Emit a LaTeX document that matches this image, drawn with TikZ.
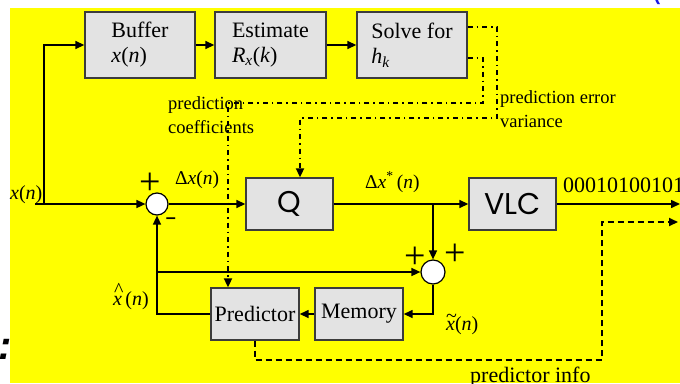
\documentclass[tikz,border=0pt]{standalone}
\usepackage{fontspec}
\setmainfont{Liberation Serif}
\newfontfamily\gothic{Poppins}
\newfontfamily\arialf{Liberation Sans}
\usetikzlibrary{arrows.meta}
\definecolor{boxgray}{HTML}{E3E3E3}
\definecolor{bord}{HTML}{3C3C3C}
\definecolor{ylw}{HTML}{FFFF00}
\definecolor{blu}{HTML}{1A1AE6}
\tikzset{
  blk/.style={draw=bord, fill=boxgray, line width=1.4pt, align=left,
    font=\fontsize{22}{25}\selectfont, inner sep=0pt},
  gblk/.style={blk, align=center, font=\gothic\fontsize{30}{30}\selectfont},
  sumc/.style={circle, draw=black, fill=white, line width=1.2pt, inner sep=0pt},
  tip/.style={-{Triangle[length=9pt,width=8pt]}},
  arr/.style={tip, line width=1.5pt},
  dsh/.style={tip, line width=2pt, dash pattern=on 6pt off 4pt},
  dd/.style={tip, line width=2pt, dash pattern=on 5pt off 4pt on 1.5pt off 4pt},
  lbl/.style={font=\fontsize{18.5}{24}\selectfont, inner sep=0pt, anchor=base west},
  mlbl/.style={font=\fontsize{20}{24}\selectfont, inner sep=0pt, anchor=base west},
  pls/.style={font=\fontsize{38}{38}\selectfont, inner sep=0pt},
}
\begin{document}
\begin{tikzpicture}[x=1pt,y=-1pt]
\useasboundingbox (0,0) rectangle (680,383);
\fill[white] (0,0) rectangle (680,383);
\node[font=\arialf\bfseries\itshape\fontsize{40}{40}\selectfont, inner sep=0pt, anchor=base east] (frag) at (12,359) {l:};
\fill[ylw] (10,8) rectangle (680,383);
\node[font=\arialf\bfseries\fontsize{20}{20}\selectfont, text=blu, inner sep=0pt, anchor=south] (brk) at (657,5) {(};

% blocks
\node[blk, minimum width=110pt, minimum height=66pt] (buf) at (140,45) {Buffer\\\textit{x}(\textit{n})};
\node[blk, minimum width=111pt, minimum height=66pt] (est) at (270.5,45) {Estimate\\\textit{R}\textsubscript{\textit{x}}(\textit{k})};
\node[blk, minimum width=110pt, minimum height=66pt] (solve) at (412,45) {Solve for\\\textit{h}\textsubscript{\textit{k}}};
\node[gblk, minimum width=87pt, minimum height=52pt] (q) at (289.5,204) {Q};
\node[gblk, minimum width=87pt, minimum height=52pt] (vlc) at (512.5,204) {VLC};
\node[blk, minimum width=88pt, minimum height=52pt, align=center] (pred) at (255,314) {Predictor};
\node[blk, minimum width=88pt, minimum height=52pt, align=center] (mem) at (359,314) {Memory};
\node[sumc, minimum size=22pt] (s1) at (157,204) {};
\node[sumc, minimum size=24pt] (s2) at (433,272) {};

% solid connectors
\coordinate (xin) at (35,204);
\coordinate (tap) at (44,204);
\coordinate (out) at (680,204);
\coordinate (br) at (433,204);
\coordinate (fb) at (157,272);
\draw[arr] (xin) -- (s1);
\draw[arr] (tap) |- (buf.west);
\draw[arr] (buf) -- (est);
\draw[arr] (est) -- (solve);
\draw[arr] (s1) -- (q);
\draw[arr] (q) -- (vlc);
\draw[arr] (vlc) -- (out);
\draw[arr] (br) -- (s2);
\draw[arr] (pred.west) -| (s1.south);
\draw[arr] (fb) -- (s2);
\draw[arr] (s2.south) |- (mem.east);
\draw[arr] (mem) -- (pred);

% dashed / dash-dotted
\coordinate (pinfo) at (678,222);
\draw[dsh] (pred.south) |- (602,360) -- (602,222) -- (pinfo);
\draw[dd] ([yshift=-13pt]solve.east) -| (483,103) -- (228,103) -- (228,103 |- pred.north);
\draw[dd] ([yshift=18pt]solve.east) -| (497,118) -- (300,118) -- (300,118 |- q.north);

% labels
\node[lbl] (l1) at (168,109) {prediction};
\node[lbl] (l2) at (168,133) {coefficients};
\node[lbl] (l3) at (500,103) {prediction error};
\node[lbl] (l4) at (500,127) {variance};
\node[lbl, font=\fontsize{22}{24}\selectfont] (l5) at (470,382) {predictor info};
\node[lbl, font=\fontsize{22}{24}\selectfont] (bits) at (563,192) {0001010010101};
\node[mlbl] (xn) at (10,199) {\textit{x}(\textit{n})};
\node[mlbl, font=\fontsize{19.5}{24}\selectfont] (dx) at (175,184) {Δ\textit{x}(\textit{n})};
\node[mlbl, font=\fontsize{19.5}{24}\selectfont] (dxs) at (365,188) {Δ\textit{x}\textsuperscript{*}\,(\textit{n})};
\node[mlbl] (xh) at (113,305) {\makebox[0pt][l]{\kern1pt\raisebox{0.42em}{\textasciicircum}}\textit{x}\,(\textit{n})};
\node[mlbl] (xt) at (446,330) {\makebox[0pt][l]{\raisebox{0.38em}{\textasciitilde}}\textit{x}(\textit{n})};
\node[pls] (p1) at (150,184) {+};
\node[pls] (p2) at (415,258) {+};
\node[pls] (p3) at (455,255) {+};
\node[font=\arialf\bfseries\fontsize{18}{18}\selectfont, inner sep=0pt] (m1) at (171,221) {–};
\end{tikzpicture}
\end{document}
